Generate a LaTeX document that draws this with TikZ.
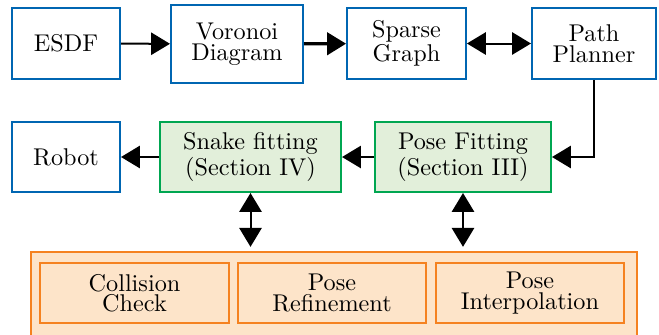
\documentclass[tikz,border=0pt]{standalone}
\usetikzlibrary{arrows.meta}
\definecolor{boxblue}{RGB}{0,102,178}
\definecolor{fitgreen}{RGB}{0,166,81}
\definecolor{fitfill}{RGB}{226,239,218}
\definecolor{toolorange}{RGB}{245,130,32}
\definecolor{toolfill}{RGB}{253,228,201}
\def\RowA{43.5}
\def\RowB{157}
\def\RowC{293}

\begin{document}
\begin{tikzpicture}[x=0.45pt,y=-0.45pt,
  block/.style={draw=boxblue, line width=0.9pt, align=center, inner sep=0pt,
    font=\fontsize{10.9pt}{9.2pt}\selectfont},
  fitblock/.style={draw=fitgreen, fill=fitfill, line width=0.9pt, align=center, inner sep=0pt,
    minimum height=31.5pt, font=\fontsize{10.9pt}{11.6pt}\selectfont},
  toolblock/.style={draw=toolorange, fill=toolfill, line width=0.9pt, align=center, inner sep=0pt,
    minimum width=84.6pt, minimum height=27pt, font=\fontsize{10.9pt}{9.2pt}\selectfont},
  link/.style={line width=0.9pt, -{Triangle[length=8.5pt,width=10pt]}},
  dlink/.style={line width=0.9pt, {Triangle[length=8.5pt,width=10pt]}-{Triangle[length=8.5pt,width=10pt]}}]
  \useasboundingbox (0,0) rectangle (659,334);
  \clip (0,0) rectangle (659,334);
  % top row
  \node[block, minimum width=48.6pt, minimum height=32pt] (esdf) at (66,\RowA) {ESDF};
  \node[block, minimum width=59.4pt, minimum height=35pt] (voronoi) at (237,44) {Voronoi\\Diagram};
  \node[block, minimum width=53.5pt, minimum height=32pt] (graph) at (406.5,\RowA) {Sparse\\Graph};
  \node[block, minimum width=55.8pt, minimum height=32pt] (planner) at (594,\RowA) {Path\\Planner};
  % middle row
  \node[block, minimum width=48.6pt, minimum height=31.5pt] (robot) at (66,\RowB) {Robot};
  \node[fitblock, minimum width=81.5pt] (snake) at (250.5,\RowB) {Snake fitting\\(Section IV)};
  \node[fitblock, minimum width=79.2pt] (pose) at (463,\RowB) {Pose Fitting\\(Section III)};
  % tools
  \node[draw=toolorange, fill=toolfill, line width=0.9pt, minimum width=272.7pt,
    minimum height=42pt, inner sep=0pt] (tools) at (334,298.5) {};
  \node[toolblock] (collision) at (134.5,\RowC) {Collision\\Check};
  \node[toolblock] (refine) at (332,\RowC) {Pose\\Refinement};
  \node[toolblock] (interp) at (530,\RowC) {Pose\\Interpolation};
  % connectors
  \draw[link] (esdf) -- (voronoi);
  \draw[link, line width=1.5pt] (voronoi) -- (graph);
  \draw[dlink] (graph) -- (planner);
  \draw[link] (planner.south) |- (pose.east);
  \draw[link] (pose) -- (snake);
  \draw[link] (snake) -- (robot);
  \draw[dlink, shorten >=1.8pt] (snake.south) -- (snake.south |- tools.north);
  \draw[dlink, shorten >=1.8pt] (pose.south) -- (pose.south |- tools.north);
\end{tikzpicture}
\end{document}
